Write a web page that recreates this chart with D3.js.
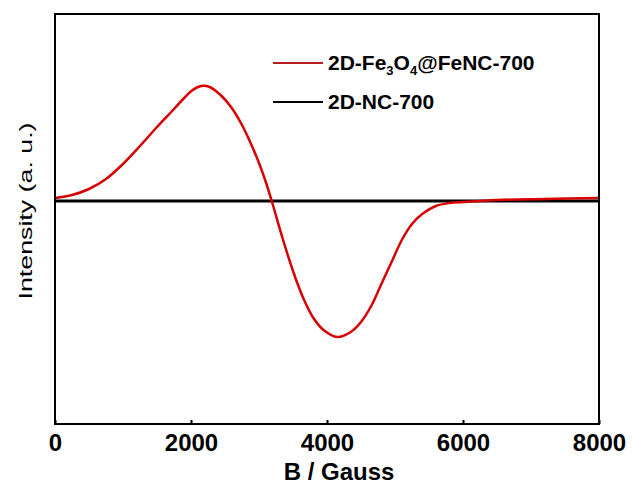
<!DOCTYPE html>
<html>
<head>
<meta charset="utf-8">
<script src="https://cdn.jsdelivr.net/npm/d3@7"></script>
<style>
  body { margin: 0; background: #fff; }
  text { font-family: "Liberation Sans", Arial, sans-serif; }
</style>
</head>
<body>
<script>
// EPR spectra (field in Gauss, intensity in arbitrary units)
const fieldFe = [0, 250, 500, 750, 1000, 1250, 1500, 1750, 1900, 2025, 2150, 2275, 2450, 2600, 2750, 2850,
  3000, 3100, 3200, 3350, 3500, 3650, 3800, 3950, 4150, 4350, 4500, 4650, 4800, 4950, 5100,
  5250, 5400, 5600, 5800, 6000, 6500, 7200, 8000];
const intensityFe = [3, 6, 12, 22, 37, 55, 74, 92, 103, 111, 115, 114, 105, 93, 76, 62,
  38, 19, -3, -38, -70, -97, -117, -129, -136, -131, -121, -105, -83, -61, -39,
  -23, -13, -5, -2, -1, 1, 2, 3];
const fieldNC = [0, 2000, 4000, 6000, 8000];
const intensityNC = [0, 0, 0, 0, 0];
const xTicks = [0, 2000, 4000, 6000, 8000];
const seriesNames = ['2D-Fe3O4@FeNC-700', '2D-NC-700'];
const colors = ['#d80000', '#000000'];

const svgWidth = 632;
const svgHeight = 489;
const margin = { top: 14, right: 33, bottom: 65, left: 55 };
const chartWidth = svgWidth - margin.left - margin.right;
const chartHeight = svgHeight - margin.top - margin.bottom;

const svg = d3.select('body')
  .append('svg')
  .attr('width', svgWidth)
  .attr('height', svgHeight);

const chart = svg.append('g')
  .attr('transform', `translate(${margin.left},${margin.top})`);

const xScale = d3.scaleLinear()
  .domain([0, 8000])
  .range([0, chartWidth]);

const yScale = d3.scaleLinear()
  .domain([-223, 187])
  .range([chartHeight, 0]);

const line = d3.line()
  .x(d => xScale(d[0]))
  .y(d => yScale(d[1]))
  .curve(d3.curveCatmullRom.alpha(0.5));

// black line first, red on top
chart.append('path')
  .datum(fieldNC.map((b, i) => [b, intensityNC[i]]))
  .attr('fill', 'none')
  .attr('stroke', colors[1])
  .attr('stroke-width', 3)
  .attr('d', line);

chart.append('path')
  .datum(fieldFe.map((b, i) => [b, intensityFe[i]]))
  .attr('fill', 'none')
  .attr('stroke', colors[0])
  .attr('stroke-width', 2.5)
  .attr('d', line);

// x axis: small inward ticks, labels below
const xAxis = d3.axisBottom(xScale)
  .tickValues(xTicks)
  .tickSizeInner(-4)
  .tickSizeOuter(0)
  .tickPadding(10)
  .tickFormat(d3.format('d'));

const xg = chart.append('g')
  .attr('transform', `translate(0,${chartHeight})`)
  .call(xAxis);
xg.select('.domain').remove();
xg.selectAll('line').attr('stroke', '#000').attr('stroke-width', 2);
xg.selectAll('text')
  .attr('fill', '#000')
  .style('font-size', '24px')
  .style('font-weight', 'bold')
  .style('font-family', '"Liberation Sans", Arial, sans-serif');

// frame
chart.append('rect')
  .attr('width', chartWidth)
  .attr('height', chartHeight)
  .attr('fill', 'none')
  .attr('stroke', '#000')
  .attr('stroke-width', 2);

// axis titles
chart.append('text')
  .attr('x', 284)
  .attr('y', chartHeight + 56)
  .attr('text-anchor', 'middle')
  .style('font-size', '24px')
  .style('font-weight', 'bold')
  .text('B / Gauss');

chart.append('text')
  .attr('transform', `translate(${-23},${197}) rotate(-90)`)
  .attr('text-anchor', 'middle')
  .attr('textLength', 177)
  .attr('lengthAdjust', 'spacingAndGlyphs')
  .style('font-size', '19px')
  .text('Intensity (a. u.)');

// legend
const legend = chart.append('g')
  .attr('transform', `translate(218, 49)`);

legend.append('line')
  .attr('x1', 0).attr('x2', 50)
  .attr('y1', 0).attr('y2', 0)
  .attr('stroke', '#b81c1c')
  .attr('stroke-width', 2);

const t1 = legend.append('text')
  .attr('x', 55)
  .attr('y', 7)
  .style('font-size', '21px')
  .style('font-weight', 'bold');
t1.append('tspan').text('2D-Fe');
t1.append('tspan').attr('dy', 5).style('font-size', '13px').text('3');
t1.append('tspan').attr('dy', -5).text('O');
t1.append('tspan').attr('dy', 5).style('font-size', '13px').text('4');
t1.append('tspan').attr('dy', -5).text('@FeNC-700');

legend.append('line')
  .attr('x1', 0).attr('x2', 50)
  .attr('y1', 39).attr('y2', 39)
  .attr('stroke', colors[1])
  .attr('stroke-width', 2);

legend.append('text')
  .attr('x', 55)
  .attr('y', 46)
  .style('font-size', '21px')
  .style('font-weight', 'bold')
  .text(seriesNames[1]);
</script>
</body>
</html>
